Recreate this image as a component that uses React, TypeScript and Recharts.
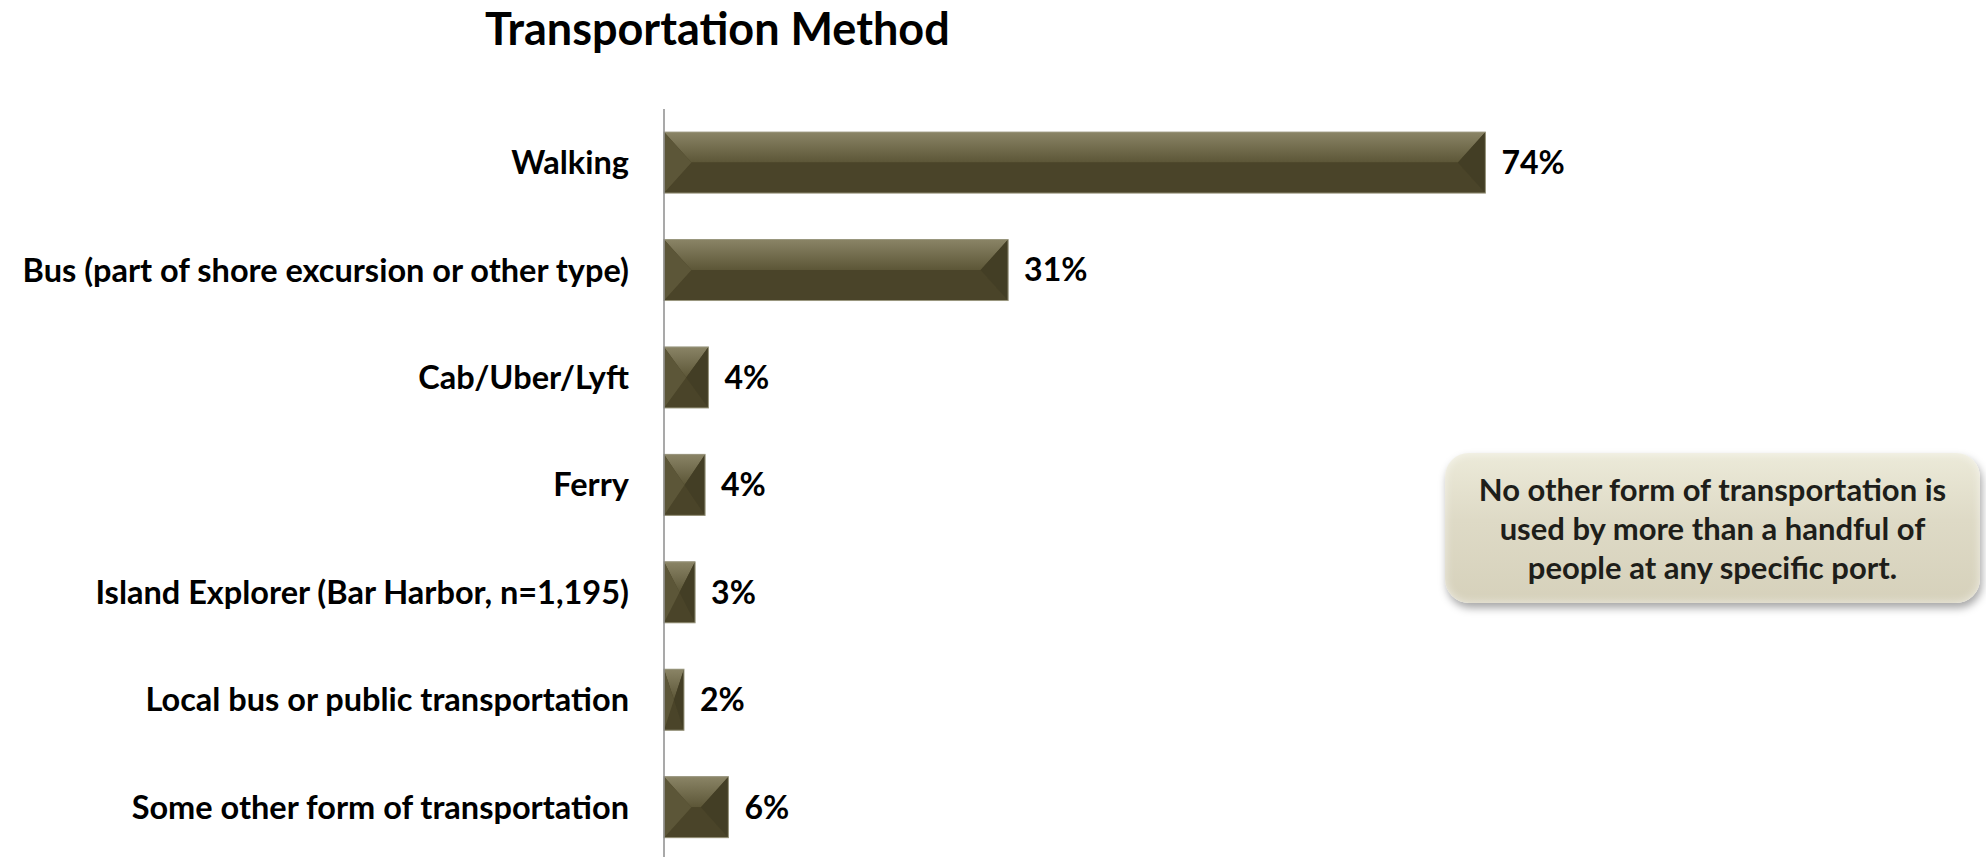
import { BarChart, Bar, XAxis, YAxis, LabelList } from 'recharts'

const categories = [
  'Walking',
  'Bus (part of shore excursion or other type)',
  'Cab/Uber/Lyft',
  'Ferry',
  'Island Explorer (Bar Harbor, n=1,195)',
  'Local bus or public transportation',
  'Some other form of transportation',
]
const shares = [74, 31, 4, 3.7, 2.8, 1.8, 5.8]

const calloutLines = [
  'No other form of transportation is',
  'used by more than a handful of',
  'people at any specific port.',
]

const FONT = 'Lato, "Open Sans", sans-serif'

const data = categories.map((name, i) => ({ name, value: shares[i] }))

// bevelled bar, like the office "angle" bevel
function BevelBar(props: any) {
  const { x, y, width, height } = props
  if (!width || width <= 0) return null
  const d = Math.min(height * 0.45, width / 2)
  const mid = y + height / 2
  return (
    <g>
      <rect x={x} y={y} width={width} height={height} fill="#4a4428" />
      <polygon
        points={`${x},${y} ${x + width},${y} ${x + width - d},${mid} ${x + d},${mid}`}
        fill="url(#bevelTop)"
      />
      <polygon
        points={`${x + d},${mid} ${x + width - d},${mid} ${x + width},${y + height} ${x},${y + height}`}
        fill="#4a4429"
      />
      <polygon points={`${x},${y} ${x + d},${mid} ${x},${y + height}`} fill="#5c5638" />
      <polygon points={`${x + width},${y} ${x + width - d},${mid} ${x + width},${y + height}`} fill="#433e25" />
      <rect x={x} y={y} width={width} height={height} fill="none" stroke="#9a977f" strokeWidth={1} />
    </g>
  )
}

function CategoryTick(props: any) {
  const { x, y, payload } = props
  return (
    <text
      x={x}
      y={y}
      dy="0.35em"
      textAnchor="end"
      fontFamily={FONT}
      fontWeight={700}
      fontSize={32.5}
      fill="#000"
    >
      {payload.value}
    </text>
  )
}

export default function App() {
  return (
    <div
      style={{
        position: 'absolute',
        left: 0,
        top: 0,
        width: 1986,
        height: 857,
        overflow: 'hidden',
        background: '#fff',
        fontFamily: FONT,
      }}
    >
      <div
        style={{
          position: 'absolute',
          left: 485,
          top: 1,
          fontSize: 45,
          fontWeight: 700,
          color: '#000',
          whiteSpace: 'nowrap',
          lineHeight: '54px',
        }}
      >
        Transportation Method
      </div>

      <BarChart
        width={1986}
        height={870}
        data={data}
        layout="vertical"
        barCategoryGap="21.5%"
        margin={{ top: 109, right: 434, bottom: 9, left: 0 }}
      >
        <defs>
          <linearGradient id="bevelTop" x1="0" y1="0" x2="0" y2="1">
            <stop offset="0%" stopColor="#8a8466" />
            <stop offset="100%" stopColor="#5c5637" />
          </linearGradient>
        </defs>
        <XAxis type="number" domain={[0, 80]} hide />
        <YAxis
          type="category"
          dataKey="name"
          width={664}
          tickLine={false}
          tickSize={0}
          tickMargin={35}
          axisLine={{ stroke: '#8c8c8c', strokeWidth: 1.5 }}
          tick={<CategoryTick />}
          interval={0}
        />
        <Bar dataKey="value" shape={<BevelBar />} isAnimationActive={false}>
          <LabelList
            dataKey="value"
            position="right"
            offset={16}
            formatter={(v: any) => `${Math.round(Number(v))}%`}
            style={{ fontFamily: FONT, fontWeight: 700, fontSize: 32, fill: '#000' }}
          />
        </Bar>
      </BarChart>

      <div
        style={{
          position: 'absolute',
          left: 1445,
          top: 453,
          width: 535,
          height: 150,
          borderRadius: 24,
          background: 'linear-gradient(180deg, #ecead9 0%, #dedac6 45%, #d6d1bb 100%)',
          boxShadow: '2px 5px 8px rgba(0,0,0,0.35), inset 0 0 10px rgba(255,255,255,0.6)',
          display: 'flex',
          flexDirection: 'column',
          justifyContent: 'center',
          alignItems: 'center',
          fontSize: 31,
          fontWeight: 700,
          color: '#1e1e1a',
          lineHeight: '39px',
          textAlign: 'center',
          whiteSpace: 'nowrap',
        }}
      >
        {calloutLines.map((l) => (
          <div key={l}>{l}</div>
        ))}
      </div>
    </div>
  )
}
